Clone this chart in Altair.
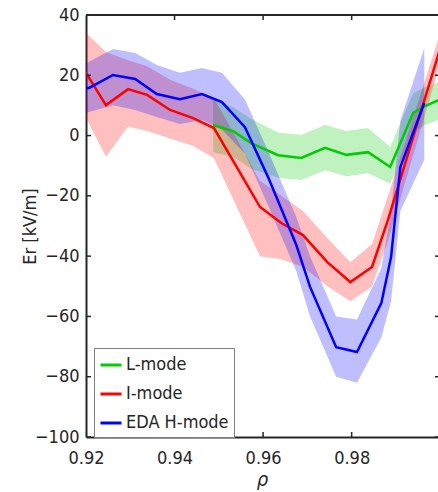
import altair as alt
import pandas as pd

# ---------------- data ----------------
modes = ["L-mode", "I-mode", "EDA H-mode"]
colors = ["#00cc00", "#ff0000", "#0000ff"]

# L-mode (green)
rho_l = [0.9487, 0.9532, 0.9573, 0.9634, 0.9686, 0.9740, 0.9788, 0.9837, 0.9887, 0.9939, 0.9966, 1.0000]
er_l = [3.5, 1.5, -2.5, -6.5, -7.4, -4.1, -6.4, -5.5, -10.4, 7.5, 9.8, 12.0]
hi_l = [12.0, 9.5, 5.5, 1.0, 0.2, 3.5, 1.5, 2.5, -3.8, 14.0, 16.0, 18.0]
lo_l = [-5.5, -7.0, -11.0, -14.0, -14.7, -11.5, -13.5, -12.5, -16.0, 1.0, 3.5, 5.5]

# I-mode (red)
rho_i = [0.9200, 0.9245, 0.9295, 0.9338, 0.9390, 0.9442, 0.9489, 0.9593, 0.9641, 0.9690, 0.9745, 0.9797, 0.9846, 0.9882, 1.0000]
er_i = [20.8, 10.1, 15.4, 13.5, 8.5, 5.8, 2.5, -23.7, -29.0, -33.0, -42.0, -48.6, -43.6, -28.0, 29.0]
hi_i = [34.0, 27.7, 25.0, 23.0, 18.5, 15.5, 12.5, -15.0, -20.0, -25.0, -34.0, -42.0, -36.0, -20.0, 34.0]
lo_i = [6.0, -7.0, 3.0, 1.5, -1.0, -3.5, -7.5, -40.0, -41.0, -43.5, -50.0, -55.0, -50.0, -35.0, 24.0]

# EDA H-mode (blue)
rho_h = [0.9200, 0.9207, 0.9261, 0.9311, 0.9360, 0.9412, 0.9462, 0.9507, 0.9559, 0.9611, 0.9675, 0.9706, 0.9765, 0.9812, 0.9867, 0.9889, 0.9910, 0.9964]
er_h = [15.8, 15.8, 20.1, 18.8, 13.8, 12.1, 13.8, 11.1, 2.8, -13.7, -36.3, -50.2, -70.2, -71.8, -55.6, -40.3, -10.4, 10.8]
hi_h = [24.0, 24.5, 28.7, 27.4, 23.4, 20.8, 22.4, 20.8, 12.0, -5.0, -27.0, -40.0, -60.0, -61.0, -44.0, -25.0, 5.0, 29.0]
lo_h = [7.5, 7.8, 10.1, 8.5, 6.2, 3.8, 5.2, 2.0, -6.0, -23.0, -45.0, -60.0, -80.0, -82.0, -67.0, -55.0, -25.0, -8.0]

x_ticks = [0.92, 0.94, 0.96, 0.98, 1.0]
y_ticks = [-100, -80, -60, -40, -20, 0, 20, 40]

# ---------------- build table ----------------
rows = []
for m, r, e, lo, hi in [("L-mode", rho_l, er_l, lo_l, hi_l),
                        ("I-mode", rho_i, er_i, lo_i, hi_i),
                        ("EDA H-mode", rho_h, er_h, lo_h, hi_h)]:
    for i in range(len(r)):
        rows.append(dict(mode=m, rho=r[i], er=e[i], lo=lo[i], hi=hi[i]))
df = pd.DataFrame(rows)
xt = pd.DataFrame({"t": x_ticks})
yt = pd.DataFrame({"t": y_ticks})

W, H = 352, 422
FONT = "DejaVu Sans Condensed, DejaVu Sans"
INK = "#262626"

xscale = alt.Scale(domain=[0.92, 0.9995], nice=False, zero=False)
yscale = alt.Scale(domain=[-100, 40], nice=False, zero=False)

xaxis = alt.Axis(values=x_ticks, format=".2~f", labelFlush=False, ticks=False, tickSize=0,
                 grid=False, domainColor=INK, domainWidth=2, labelFont=FONT, labelFontSize=18,
                 labelColor=INK, labelPadding=12, labelOverlap=False,
                 title="ρ", titleFont=FONT, titleFontSize=20, titleFontStyle="italic",
                 titleFontWeight="normal", titleColor=INK, titleBaseline="alphabetic", titleY=48)
yaxis = alt.Axis(values=y_ticks, labelFlush=False, ticks=False, tickSize=0, grid=False,
                 domainColor=INK, domainWidth=2, labelFont=FONT, labelFontSize=18,
                 labelColor=INK, labelPadding=7, labelOverlap=False,
                 title="Er [kV/m]", titleFont=FONT, titleFontSize=18, titleFontWeight="normal",
                 titleColor=INK, titleAngle=270, titleX=-56, titleY=H / 2,
                 titleBaseline="middle", titleAlign="center")

base = alt.Chart(df)
layers = []
for m, c in zip(modes, colors):
    layers.append(
        base.transform_filter(alt.datum.mode == m)
        .mark_area(color=c, fillOpacity=0.25, clip=True)
        .encode(x=alt.X("rho:Q", scale=xscale, axis=xaxis),
                y=alt.Y("lo:Q", scale=yscale, axis=yaxis),
                y2="hi:Q")
    )

lines = base.mark_line(strokeWidth=2.5, clip=True).encode(
    x=alt.X("rho:Q", scale=xscale, axis=xaxis),
    y=alt.Y("er:Q", scale=yscale, axis=yaxis),
    color=alt.Color("mode:N", scale=alt.Scale(domain=modes, range=colors), sort=modes,
                    legend=alt.Legend(title=None, orient="none", legendX=8, legendY=333,
                                      symbolType="stroke", symbolSize=441, symbolStrokeWidth=3,
                                      labelFont=FONT, labelFontSize=18, labelColor=INK,
                                      padding=5, strokeColor="#808080", fillColor="white",
                                      rowPadding=8, labelOffset=3, cornerRadius=0)),
    detail="mode:N",
)
layers.append(lines)

# inward tick marks (MATLAB box style)
tick_style = dict(color=INK, strokeWidth=1.5, clip=True)
layers.append(alt.Chart(xt).mark_rule(**tick_style).encode(
    x=alt.X("t:Q", scale=xscale, axis=xaxis), y=alt.value(H), y2=alt.value(H - 5)))
layers.append(alt.Chart(xt).mark_rule(**tick_style).encode(
    x=alt.X("t:Q", scale=xscale, axis=xaxis), y=alt.value(0), y2=alt.value(5)))
layers.append(alt.Chart(yt).mark_rule(**tick_style).encode(
    y=alt.Y("t:Q", scale=yscale, axis=yaxis), x=alt.value(0), x2=alt.value(5)))
layers.append(alt.Chart(yt).mark_rule(**tick_style).encode(
    y=alt.Y("t:Q", scale=yscale, axis=yaxis), x=alt.value(W - 3), x2=alt.value(W)))
# top border
layers.append(alt.Chart(xt).mark_rule(color=INK, strokeWidth=2).encode(
    x=alt.value(0), x2=alt.value(W), y=alt.value(0)))

chart = alt.layer(*layers).properties(
    width=W, height=H,
    padding={"left": 86, "top": 15, "right": 0, "bottom": 55},
    autosize=alt.AutoSizeParams(type="none"),
    background="white",
).configure_view(stroke=None)

chart.save("out.html", embed_options={"renderer": "svg", "actions": False})
